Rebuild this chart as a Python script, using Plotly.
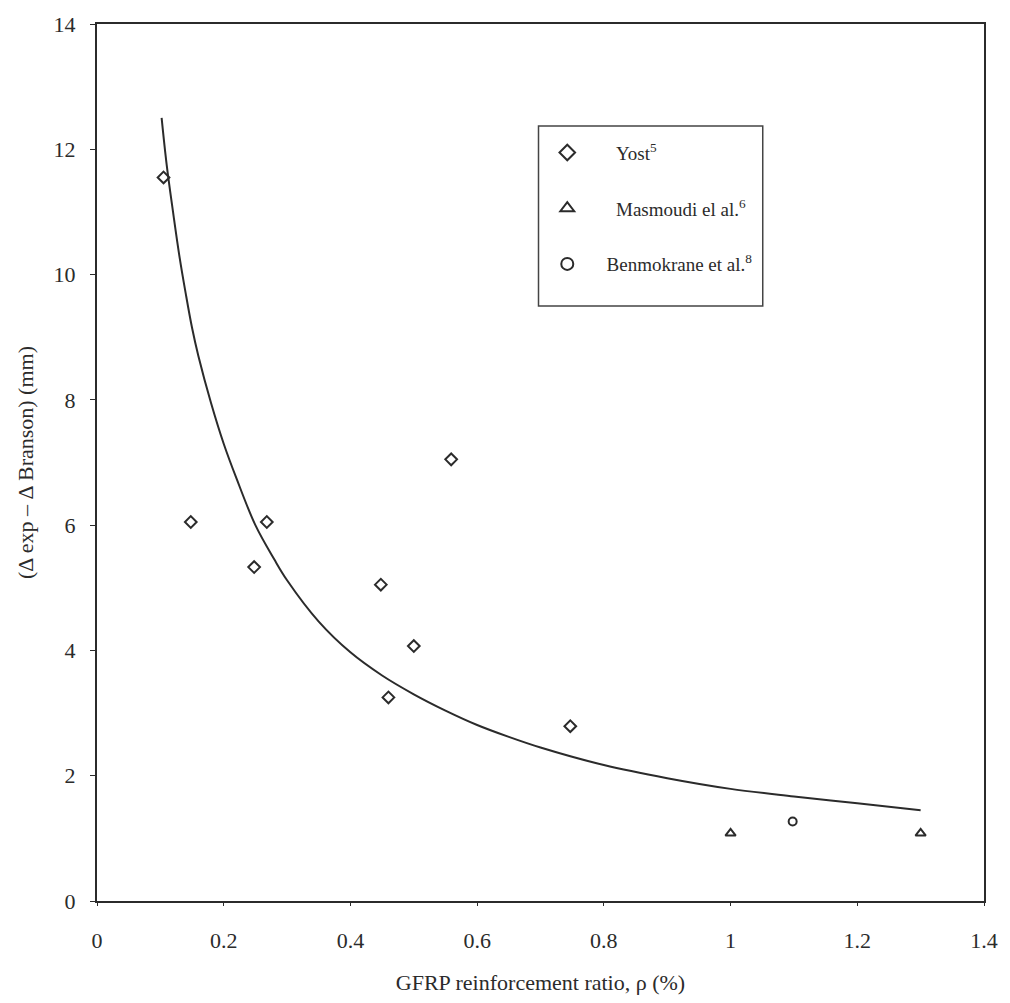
import plotly.graph_objects as go

# ---- data ----
yost_x = [0.105, 0.148, 0.248, 0.268, 0.448, 0.460, 0.500, 0.559, 0.747]
yost_y = [11.55, 6.05, 5.33, 6.05, 5.05, 3.25, 4.07, 7.05, 2.79]

masmoudi_x = [1.0, 1.3]
masmoudi_y = [1.08, 1.08]

benmokrane_x = [1.098]
benmokrane_y = [1.27]

curve_x = [0.102, 0.11, 0.12, 0.13, 0.14, 0.15, 0.16, 0.18, 0.20, 0.22, 0.25,
           0.28, 0.30, 0.35, 0.40, 0.45, 0.50, 0.55, 0.60, 0.65, 0.70, 0.80,
           0.90, 1.00, 1.10, 1.20, 1.30]
curve_y = [12.5, 11.75, 11.0, 10.3, 9.7, 9.15, 8.7, 7.95, 7.3, 6.75, 6.0,
           5.45, 5.12, 4.46, 3.97, 3.6, 3.3, 3.04, 2.81, 2.62, 2.45, 2.17,
           1.96, 1.79, 1.67, 1.56, 1.45]

x_ticks = [0, 0.2, 0.4, 0.6, 0.8, 1.0, 1.2, 1.4]
x_ticktext = ["0", "0.2", "0.4", "0.6", "0.8", "1", "1.2", "1.4"]
y_ticks = [0, 2, 4, 6, 8, 10, 12, 14]

SERIF = "Liberation Serif"
INK = "#2b2b2b"
NB = "\u00a0"

fig = go.Figure()

fig.add_trace(go.Scatter(
    x=curve_x, y=curve_y, mode="lines", showlegend=False,
    line=dict(color=INK, width=2, shape="spline", smoothing=1.0),
    hoverinfo="skip"))

fig.add_trace(go.Scatter(
    x=yost_x, y=yost_y, mode="markers", name=NB * 5 + "Yost<sup>5</sup>",
    legendgroup="a",
    marker=dict(symbol="diamond-open", size=9, color=INK, line=dict(width=2, color=INK))))

fig.add_trace(go.Scatter(
    x=masmoudi_x, y=masmoudi_y, mode="markers", name=NB * 5 + "Masmoudi el al.<sup>6</sup>",
    legendgroup="b",
    marker=dict(symbol="triangle-up-open", size=9, color=INK, line=dict(width=2, color=INK))))

fig.add_trace(go.Scatter(
    x=benmokrane_x, y=benmokrane_y, mode="markers", name=NB * 3 + "Benmokrane et al.<sup>8</sup>",
    legendgroup="c",
    marker=dict(symbol="circle-open", size=8, color=INK, line=dict(width=2, color=INK))))

fig.update_layout(
    width=1010, height=1003,
    margin=dict(l=97, r=23, t=20, b=97),
    paper_bgcolor="white", plot_bgcolor="white",
    font=dict(family=SERIF, size=22, color=INK),
    showlegend=True,
    legend=dict(
        x=0.502, y=0.875, xanchor="left", yanchor="top",
        bgcolor="rgba(0,0,0,0)", borderwidth=0,
        font=dict(family=SERIF, size=19, color=INK),
        tracegroupgap=28, itemwidth=40, itemsizing="constant",
    ),
    shapes=[
        dict(type="rect", xref="paper", yref="paper",
             x0=(540 - 97) / 890, x1=(765 - 97) / 890,
             y0=(906 - 305) / 886, y1=(906 - 123) / 886,
             line=dict(color="#444444", width=1.5)),
    ],
)

fig.update_xaxes(
    range=[0, 1.4], tickvals=x_ticks, ticktext=x_ticktext,
    showgrid=False, zeroline=False,
    showline=True, mirror=True, linecolor=INK, linewidth=2,
    ticks="outside", ticklen=3, tickcolor=INK,
    ticklabelstandoff=16,
    tickfont=dict(family=SERIF, size=22, color=INK),
    title=dict(text="GFRP reinforcement ratio, ρ (%)", standoff=22,
               font=dict(family=SERIF, size=22, color=INK)),
)

fig.update_yaxes(
    range=[0, 14], tickvals=y_ticks,
    showgrid=False, zeroline=False,
    showline=True, mirror=True, linecolor=INK, linewidth=2,
    ticks="outside", ticklen=5, tickcolor=INK,
    ticklabelstandoff=10,
    tickfont=dict(family=SERIF, size=22, color=INK),
    title=dict(text="(Δ exp – Δ Branson) (mm)", standoff=14,
               font=dict(family=SERIF, size=22, color=INK)),
)

fig.write_html("out.html")
